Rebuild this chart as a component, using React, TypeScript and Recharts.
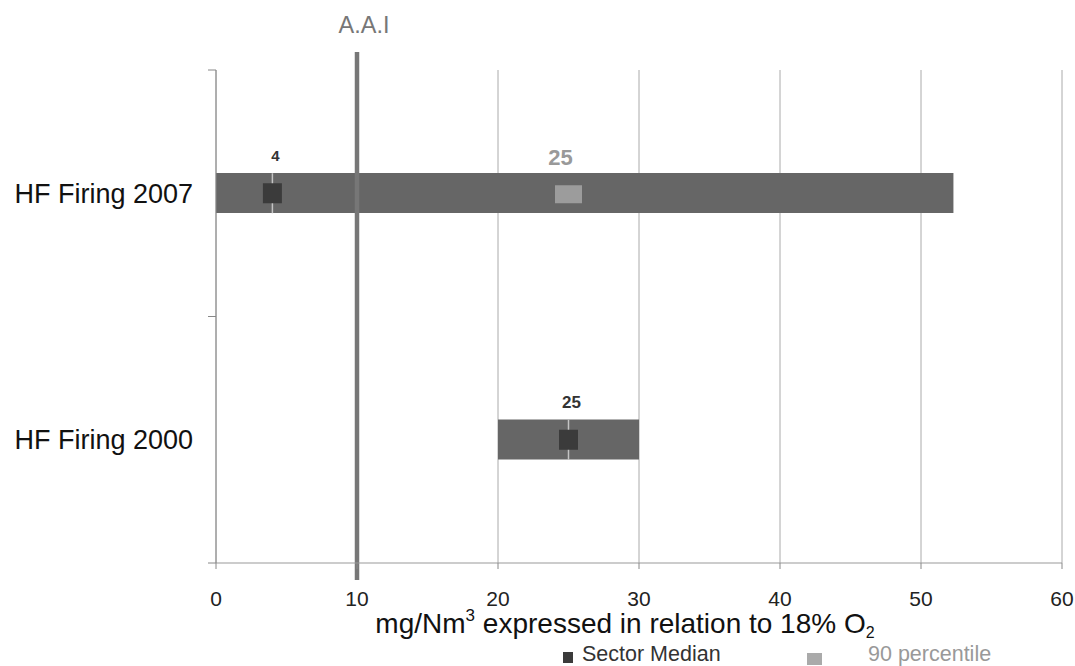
import React from 'react';
import {
  ComposedChart,
  Bar,
  Line,
  XAxis,
  YAxis,
  CartesianGrid,
  ReferenceLine,
  Legend,
  Label,
} from 'recharts';

// ---- data ----
const categories = ['HF Firing 2007', 'HF Firing 2000'];
const rangeLow = [0, 20];
const rangeHigh = [52.3, 30];
const sectorMedian = [4, 25];
const percentile90: (number | null)[] = [25, null];
const xTicks = [0, 10, 20, 30, 40, 50, 60];
const aaiValue = 10;
const aaiLabel = 'A.A.I';
const legendNames = ['Sector Median', '90 percentile'];

const data = categories.map((name, i) => ({
  name,
  range: [rangeLow[i], rangeHigh[i]],
  median: sectorMedian[i],
  p90: percentile90[i],
}));

const FONT = '"Liberation Sans", Arial, Helvetica, sans-serif';

const YTick = (props: any) => {
  const { x, y, payload, index, visibleTicksCount } = props;
  const off = payload && payload.offset ? payload.offset : 0;
  return (
    <g>
      <line x1={x - 8} x2={x} y1={y - off} y2={y - off} stroke="#888" strokeWidth={1} />
      {index === visibleTicksCount - 1 && (
        <line x1={x - 8} x2={x} y1={y + off} y2={y + off} stroke="#888" strokeWidth={1} />
      )}
      <text
        x={x - 23}
        y={y}
        dy="0.35em"
        textAnchor="end"
        fontSize={27}
        fill="#111"
        fontFamily={FONT}
      >
        {payload.value}
      </text>
    </g>
  );
};

const MedianDot = (props: any) => {
  const { cx, cy, value, index } = props;
  if (value == null || cx == null || cy == null) return <g key={`m${index}`} />;
  return (
    <g key={`m${index}`}>
      <line x1={cx} x2={cx} y1={cy - 20} y2={cy + 20} stroke="#c4c4c4" strokeWidth={1.5} />
      <rect x={cx - 9.5} y={cy - 10} width={19} height={20} fill="#3b3b3b" />
      <text
        x={cx + 3}
        y={cy - 32}
        textAnchor="middle"
        fontSize={index === 0 ? 15 : 17}
        fontWeight="bold"
        fill="#333"
        fontFamily={FONT}
      >
        {value}
      </text>
    </g>
  );
};

const P90Dot = (props: any) => {
  const { cx, cy, value, index } = props;
  if (value == null || cx == null || cy == null) return <g key={`p${index}`} />;
  return (
    <g key={`p${index}`}>
      <rect x={cx - 13.5} y={cy - 8} width={27} height={18} fill="#9c9c9c" />
      <text
        x={cx - 8}
        y={cy - 28}
        textAnchor="middle"
        fontSize={22}
        fontWeight="bold"
        fill="#999"
        fontFamily={FONT}
      >
        {value}
      </text>
    </g>
  );
};

const AxisTitle = (p: any) => {
  const vb = p.viewBox || { x: 216, y: 563, width: 846, height: 103 };
  const cx = vb.x + vb.width / 2 - 14;
  return (
    <text
      x={cx}
      y={vb.y + 70}
      textAnchor="middle"
      fontSize={28}
      fill="#111"
      fontFamily={FONT}
    >
      mg/Nm
      <tspan dy={-12} fontSize={17}>3</tspan>
      <tspan dy={12}> expressed in relation to 18% O</tspan>
      <tspan dy={5} fontSize={16}>2</tspan>
    </text>
  );
};

const LegendContent = () => (
  <svg width={1075} height={22} style={{ display: 'block', overflow: 'visible' }}>
    <rect x={563} y={8} width={10} height={11} fill="#3b3b3b" />
    <text x={582} y={17} fontSize={21.5} fill="#333" fontFamily={FONT}>
      {legendNames[0]}
    </text>
    <rect x={807} y={9} width={15} height={12} fill="#aaa" />
    <text x={868} y={17} fontSize={21.5} fill="#999" fontFamily={FONT}>
      {legendNames[1]}
    </text>
  </svg>
);

const RefShape = (p: any) => {
  const { x1, y1, x2, y2 } = p;
  const top = Math.min(y1, y2);
  const bottom = Math.max(y1, y2);
  return (
    <g>
      <line x1={x1} x2={x2} y1={top - 18} y2={bottom + 17} stroke="#777" strokeWidth={4.5} />
      <text
        x={x1 + 7}
        y={top - 37}
        textAnchor="middle"
        fontSize={23.5}
        fill="#777"
        fontFamily={FONT}
      >
        {aaiLabel}
      </text>
    </g>
  );
};

export default function App() {
  return (
    <div
      style={{
        position: 'absolute',
        left: 0,
        top: 0,
        width: 1075,
        height: 666,
        overflow: 'hidden',
        fontFamily: FONT,
      }}
    >
      <ComposedChart
        width={1075}
        height={666}
        data={data}
        layout="vertical"
        margin={{ top: 70, right: 13, left: 8, bottom: 0 }}
      >
        <CartesianGrid horizontal={false} stroke="#aaa" strokeWidth={1} />
        <XAxis
          type="number"
          domain={[0, 60]}
          ticks={xTicks}
          interval={0}
          height={103}
          axisLine={{ stroke: '#999' }}
          tickLine={{ stroke: '#888' }}
          tickSize={6}
          tickMargin={22}
          tick={{ fontSize: 21, fill: '#222', fontFamily: FONT }}
        >
          <Label content={AxisTitle} position="bottom" />
        </XAxis>
        <YAxis
          type="category"
          dataKey="name"
          width={208}
          axisLine={{ stroke: '#888' }}
          tickLine={false}
          tickSize={0}
          tickMargin={0}
          tick={YTick}
          interval={0}
        />
        <Bar dataKey="range" fill="#666" barSize={40} isAnimationActive={false} legendType="none" />
        <Line
          dataKey="median"
          stroke="none"
          dot={MedianDot}
          activeDot={false}
          isAnimationActive={false}
          legendType="none"
        />
        <Line
          dataKey="p90"
          stroke="none"
          dot={P90Dot}
          activeDot={false}
          isAnimationActive={false}
          legendType="none"
        />
        <ReferenceLine x={aaiValue} shape={RefShape} ifOverflow="visible" />
        <Legend
          verticalAlign="middle"
          align="center"
          content={LegendContent}
          wrapperStyle={{ top: 644, left: 0, width: 1075, height: 22 }}
        />
      </ComposedChart>
    </div>
  );
}
